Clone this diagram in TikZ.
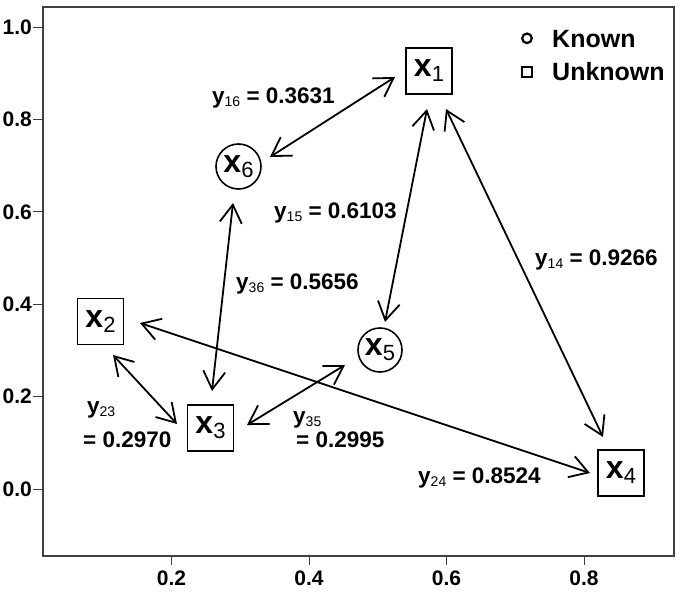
\documentclass[tikz,border=0pt]{standalone}
\usepackage{fontspec}
\setmainfont{Liberation Sans}
\usetikzlibrary{arrows.meta}
\tikzset{
  sq/.style={draw, line width=1.6pt, minimum size=46pt, inner sep=0pt},
  ci/.style={draw, circle, line width=1.6pt, minimum size=45pt, inner sep=0pt},
  arr/.style={{Straight Barb[length=18pt,width=22pt]}-{Straight Barb[length=18pt,width=22pt]}, line width=1.8pt},
  lab/.style={anchor=base west, inner sep=0pt, font=\fontsize{22.5}{26}\selectfont\bfseries},
  tick/.style={line width=1pt, black!75},
  ticklab/.style={inner sep=0pt, font=\fontsize{21}{22}\selectfont\bfseries},
  frame/.style={line width=1.1pt, black!75},
  leg/.style={anchor=base west, inner sep=0pt, font=\fontsize{25}{26}\selectfont\bfseries}
}
\newcommand{\xv}[1]{{\fontsize{32}{32}\selectfont\bfseries x}\raisebox{-5pt}{\fontsize{22}{22}\selectfont #1}}
\newcommand{\yv}[1]{\textbf{y}\raisebox{-3.5pt}{\fontsize{14}{14}\selectfont\mdseries #1}}
\begin{document}
\begin{tikzpicture}[x=1pt,y=-1pt]
\useasboundingbox (0,0) rectangle (683,597);
% frame
\draw[frame] (43,7) rectangle (674,556);
% y ticks
\foreach \v/\t in {27/1.0, 119.4/0.8, 211.8/0.6, 304.2/0.4, 396.6/0.2, 489/0.0}{
  \draw[tick] (33,\v) -- (43,\v);
  \node[ticklab, anchor=east] at (32,\v) {\t};
}
% x ticks
\foreach \v/\t in {171.5/0.2, 309/0.4, 446.5/0.6, 584/0.8}{
  \draw[tick] (\v,556) -- (\v,565);
  \node[ticklab] at (\v,578) {\t};
}
% legend
\draw[line width=2.2pt] (527,38.3) circle (4.8);
\draw[line width=2.2pt] (522.2,67.2) rectangle (531.8,76.8);
\node[leg] (lk) at (552,47) {Known};
\node[leg] (lu) at (552,80) {Unknown};
% nodes
\node[sq] (x1) at (429,71) {\xv{1}};
\node[ci] (x6) at (238.5,166.5) {\xv{6}};
\node[sq] (x2) at (100.5,321.5) {\xv{2}};
\node[sq] (x3) at (210.5,428) {\xv{3}};
\node[ci, minimum size=44pt] (x5) at (380,350) {\xv{5}};
\node[sq] (x4) at (621,473) {\xv{4}};
% arrow end points
\path (x6.center) ++(31.5,-9.5) coordinate (e16a);
\path (x1.center) ++(-34,6) coordinate (e16b);
\path (x1.center) ++(-2,38) coordinate (e15a);
\path (x5.center) ++(5,-28) coordinate (e15b);
\path (x1.center) ++(17,38) coordinate (e14a);
\path (x4.center) ++(-18,-36) coordinate (e14b);
\path (x6.center) ++(-5.5,36.5) coordinate (e36a);
\path (x3.center) ++(1.5,-37) coordinate (e36b);
\path (x2.center) ++(12.5,33.5) coordinate (e23a);
\path (x3.center) ++(-33.5,-4) coordinate (e23b);
\path (x3.center) ++(36.5,-3) coordinate (e35a);
\path (x5.center) ++(-35,15) coordinate (e35b);
\path (x2.center) ++(39.5,1.5) coordinate (e24a);
\path (x4.center) ++(-31,0) coordinate (e24b);
% connectors
\draw[arr] (e16a) -- (e16b);
\draw[arr] (e15a) -- (e15b);
\draw[arr] (e14a) -- (e14b);
\draw[arr] (e36a) -- (e36b);
\draw[arr] (e23a) -- (e23b);
\draw[arr] (e35a) -- (e35b);
\draw[arr] (e24a) -- (e24b);
% labels
\node[lab] (l16) at (212,103) {\yv{16} = 0.3631};
\node[lab] (l15) at (274,218) {\yv{15} = 0.6103};
\node[lab] (l36) at (236,289) {\yv{36} = 0.5656};
\node[lab] (l14) at (535,265) {\yv{14} = 0.9266};
\node[lab] (l23a) at (87,413) {\yv{23}};
\node[lab] (l23b) at (83,447) {= 0.2970};
\node[lab] (l35a) at (293,423) {\yv{35}};
\node[lab] (l35b) at (296,447) {= 0.2995};
\node[lab] (l24) at (418,483) {\yv{24} = 0.8524};
\end{tikzpicture}
\end{document}
